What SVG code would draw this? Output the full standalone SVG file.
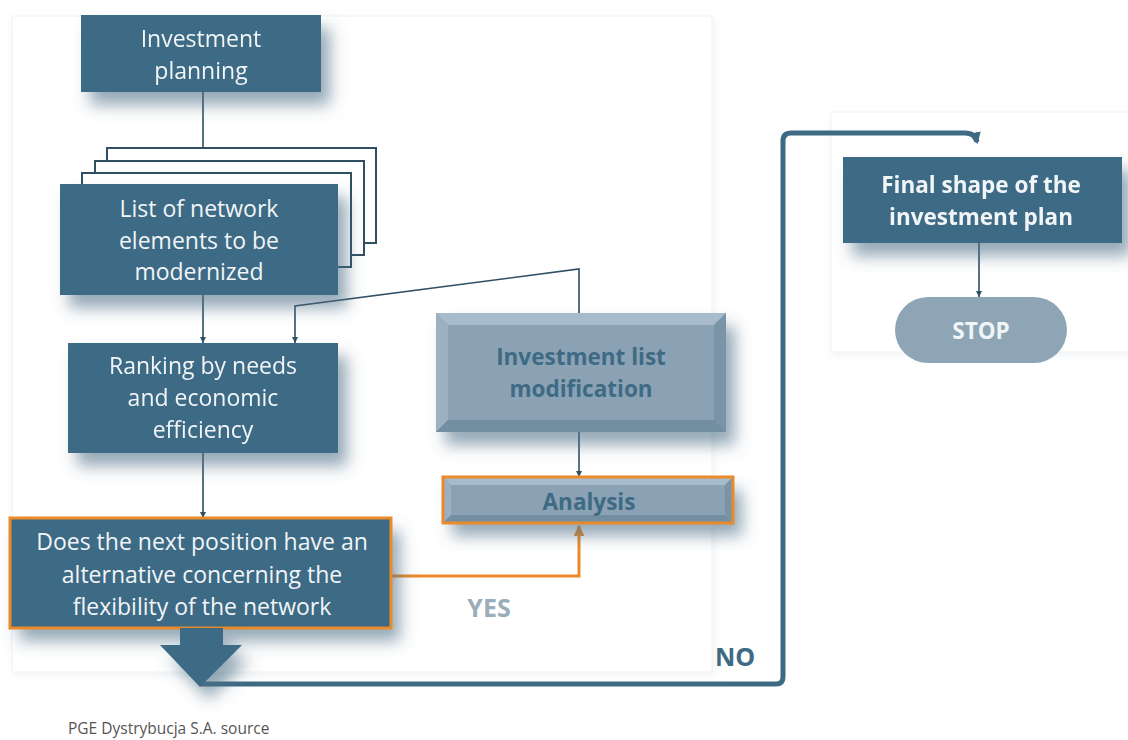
<svg xmlns="http://www.w3.org/2000/svg" width="1128" height="740" viewBox="0 0 1128 740">
<defs>
<style>
.dark{fill:#3e6a84}
.wt{font-family:"Open Sans","Liberation Sans",sans-serif;font-size:23px;fill:#f1f5f8;text-anchor:middle}
.wtb{font-family:"Open Sans","Liberation Sans",sans-serif;font-size:22.5px;font-weight:bold;fill:#f1f5f8;text-anchor:middle}
.db{font-family:"Open Sans","Liberation Sans",sans-serif;font-size:22.5px;font-weight:bold;fill:#3e6a84;text-anchor:middle}
.thin{fill:none;stroke:#2f4f63;stroke-width:1.6}
.frame{fill:#ffffff;stroke:#2f4f63;stroke-width:2}
</style>
<filter id="sh" x="-20%" y="-30%" width="150%" height="190%">
<feGaussianBlur in="SourceAlpha" stdDeviation="8"/>
<feOffset dx="9" dy="13" result="b"/>
<feFlood flood-color="#4d6f86" flood-opacity="0.6"/>
<feComposite in2="b" operator="in"/>
<feMerge><feMergeNode/><feMergeNode in="SourceGraphic"/></feMerge>
</filter>
<filter id="soft" x="-10%" y="-10%" width="120%" height="120%">
<feGaussianBlur in="SourceAlpha" stdDeviation="4"/>
<feOffset dx="2" dy="3" result="b"/>
<feFlood flood-color="#b8c6d0" flood-opacity="0.2"/>
<feComposite in2="b" operator="in"/>
<feMerge><feMergeNode/><feMergeNode in="SourceGraphic"/></feMerge>
</filter>
<marker id="ah" viewBox="0 0 10 10" refX="10" refY="5" markerWidth="6" markerHeight="6" orient="auto" markerUnits="userSpaceOnUse">
<path d="M0,0 L10,5 L0,10 z" fill="#2f4f63"/>
</marker>
<marker id="aho" viewBox="0 0 10 10" refX="9" refY="5" markerWidth="11" markerHeight="11" orient="auto" markerUnits="userSpaceOnUse">
<path d="M0,0 L10,5 L0,10 z" fill="#e98a2b"/>
</marker>
<marker id="ahn" viewBox="0 0 10 10" refX="8" refY="5" markerWidth="12" markerHeight="12" orient="auto" markerUnits="userSpaceOnUse">
<path d="M0,0 L10,5 L0,10 z" fill="#3e6a84"/>
</marker>
</defs>
<rect width="1128" height="740" fill="#ffffff"/>
<g id="panels">
<rect x="12" y="16" width="700" height="656" fill="#ffffff" stroke="#f3f4f6" stroke-width="1.2" filter="url(#soft)"/>
<rect x="831" y="112" width="300" height="240" fill="#ffffff" stroke="#f3f4f6" stroke-width="1.2" filter="url(#soft)"/>
</g>
<g id="connectors">
<line class="thin" x1="203" y1="92" x2="203" y2="184" marker-end="url(#ah)"/>
<line class="thin" x1="203" y1="295" x2="203" y2="343" marker-end="url(#ah)"/>
<polyline class="thin" points="579,313 579,269 295,306 295,343" marker-end="url(#ah)"/>
<line class="thin" x1="579" y1="432" x2="579" y2="477" marker-end="url(#ah)"/>
<line class="thin" x1="203" y1="453" x2="203" y2="518" marker-end="url(#ah)"/>
<polyline points="391,576 579,576 579,526" fill="none" stroke="#e98a2b" stroke-width="3" marker-end="url(#aho)"/>
<line class="thin" x1="979" y1="243" x2="979" y2="297" marker-end="url(#ah)"/>
<path d="M200,684 H776 Q783,684 783,677 V141 Q783,133 791,133 H965 Q975,133 977,142" fill="none" stroke="#3e6a84" stroke-width="5" marker-end="url(#ahn)"/>
</g>
<g id="n-planning" filter="url(#sh)">
<rect class="dark" x="81" y="15" width="240" height="77"/>
<text class="wt" x="201" y="47">Investment</text>
<text class="wt" x="201" y="79">planning</text>
</g>
<g id="n-list">
<rect class="frame" x="107" y="148" width="269" height="95"/>
<rect class="frame" x="95" y="161" width="269" height="94"/>
<rect class="frame" x="82" y="173" width="269" height="94"/>
<g filter="url(#sh)">
<rect class="dark" x="60" y="184" width="278" height="111"/>
</g>
<text class="wt" x="199" y="217">List of network</text>
<text class="wt" x="199" y="249">elements to be</text>
<text class="wt" x="199" y="280">modernized</text>
</g>
<g id="n-ranking" filter="url(#sh)">
<rect class="dark" x="68" y="343" width="270" height="110"/>
<text class="wt" x="203" y="374">Ranking by needs</text>
<text class="wt" x="203" y="406">and economic</text>
<text class="wt" x="203" y="438">efficiency</text>
</g>
<g id="n-modification">
<g filter="url(#sh)">
<rect x="436" y="313" width="290" height="119" fill="#8aa2b3"/>
</g>
<polygon points="436,313 726,313 714,325 448,325" fill="#a8bbca"/>
<polygon points="436,313 448,325 448,420 436,432" fill="#9bb0c0"/>
<polygon points="726,313 726,432 714,420 714,325" fill="#7a94a7"/>
<polygon points="436,432 726,432 714,420 448,420" fill="#738ea1"/>
<text class="db" x="581" y="365">Investment list</text>
<text class="db" x="581" y="397">modification</text>
</g>
<g id="n-analysis">
<g filter="url(#sh)">
<rect x="443" y="477" width="290" height="46" fill="#8aa2b3"/>
</g>
<polygon points="443,477 733,477 725,485 451,485" fill="#a8bbca"/>
<polygon points="443,477 451,485 451,515 443,523" fill="#9bb0c0"/>
<polygon points="733,477 733,523 725,515 725,485" fill="#7a94a7"/>
<polygon points="443,523 733,523 725,515 451,515" fill="#738ea1"/>
<rect x="443" y="477" width="290" height="46" fill="none" stroke="#e98a2b" stroke-width="3"/>
<text class="db" x="589" y="510">Analysis</text>
</g>
<g id="n-decision">
<g filter="url(#sh)">
<rect class="dark" x="10" y="518" width="381" height="110"/>
</g>
<rect x="10" y="518" width="381" height="110" fill="none" stroke="#e98a2b" stroke-width="3"/>
<text class="wt" x="202" y="550">Does the next position have an</text>
<text class="wt" x="202" y="583">alternative concerning the</text>
<text class="wt" x="202" y="615">flexibility of the network</text>
</g>
<g id="n-bigarrow" filter="url(#sh)">
<polygon class="dark" points="180,628 223,628 223,645 242,645 200,687 160,645 180,645"/>
</g>
<g id="n-final" filter="url(#sh)">
<rect class="dark" x="843" y="157" width="279" height="86"/>
<text class="wtb" x="981" y="193">Final shape of the</text>
<text class="wtb" x="981" y="225">investment plan</text>
</g>
<g id="n-stop">
<rect x="895" y="297" width="172" height="66" rx="33" fill="#8ea5b5"/>
<text class="wtb" x="981" y="339" font-size="24">STOP</text>
</g>
<g id="labels">
<text x="489" y="617" font-family="Open Sans, Liberation Sans, sans-serif" font-size="25" font-weight="bold" fill="#9aadba" text-anchor="middle">YES</text>
<text x="735" y="666" font-family="Open Sans, Liberation Sans, sans-serif" font-size="25" font-weight="bold" fill="#3e6a84" text-anchor="middle">NO</text>
<text x="68" y="734" font-family="Open Sans, Liberation Sans, sans-serif" font-size="15.5" fill="#555555">PGE Dystrybucja S.A. source</text>
</g>
</svg>
